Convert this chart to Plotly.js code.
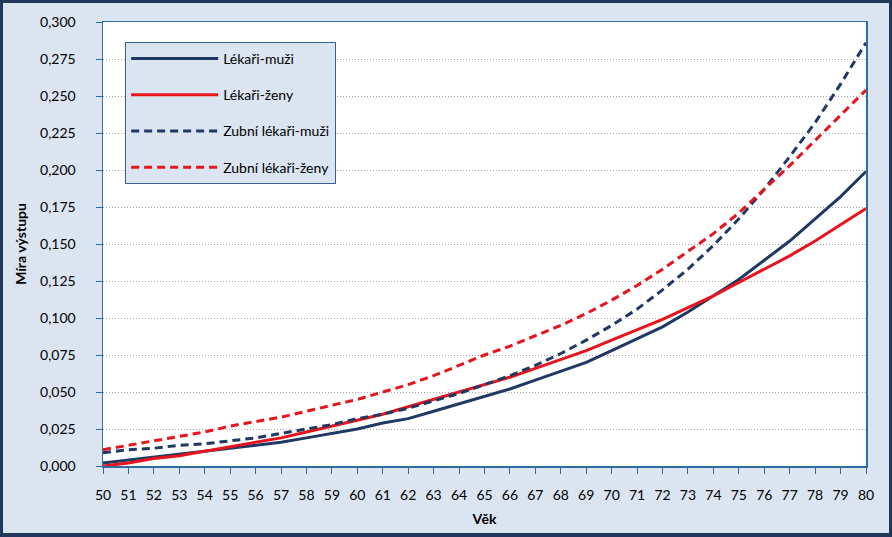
<!DOCTYPE html>
<html>
<head>
<meta charset="utf-8">
<script src="https://cdn.plot.ly/plotly-3.0.1.min.js"></script>
<style>
  html, body { margin: 0; padding: 0; background: #dbe5f1; }
  #chart {
    width: 892px; height: 537px; box-sizing: border-box;
    border: 3px solid #22385a; border-bottom-width: 4px;
  }
</style>
</head>
<body>
<div id="chart"></div>
<script>
// age axis
const ages = [50, 51, 52, 53, 54, 55, 56, 57, 58, 59, 60, 61, 62, 63, 64, 65,
              66, 67, 68, 69, 70, 71, 72, 73, 74, 75, 76, 77, 78, 79, 80];

const seriesNames = ['Lékaři-muži', 'Lékaři-ženy', 'Zubní lékaři-muži', 'Zubní lékaři-ženy'];

// values
const lekariMuzi = [0.002, 0.004, 0.006, 0.008, 0.010, 0.012, 0.014, 0.016, 0.019, 0.022,
                    0.025, 0.029, 0.032, 0.037, 0.042, 0.047, 0.052, 0.058, 0.064, 0.070,
                    0.078, 0.086, 0.094, 0.104, 0.115, 0.126, 0.139, 0.152, 0.167, 0.182, 0.199];

const lekariZeny = [0.000, 0.002, 0.005, 0.007, 0.010, 0.013, 0.016, 0.019, 0.023, 0.027,
                    0.031, 0.035, 0.040, 0.045, 0.050, 0.055, 0.060, 0.066, 0.072, 0.078,
                    0.085, 0.092, 0.099, 0.107, 0.115, 0.124, 0.133, 0.142, 0.152, 0.163, 0.174];

const zubniMuzi = [0.009, 0.011, 0.012, 0.014, 0.015, 0.017, 0.019, 0.022, 0.025, 0.028,
                   0.032, 0.035, 0.039, 0.044, 0.049, 0.055, 0.061, 0.068, 0.076, 0.085,
                   0.095, 0.106, 0.119, 0.133, 0.149, 0.167, 0.187, 0.209, 0.232, 0.258, 0.286];

const zubniZeny = [0.011, 0.014, 0.017, 0.020, 0.023, 0.027, 0.030, 0.033, 0.037, 0.041,
                   0.045, 0.050, 0.055, 0.061, 0.068, 0.075, 0.081, 0.088, 0.095, 0.103,
                   0.112, 0.122, 0.133, 0.145, 0.157, 0.171, 0.187, 0.203, 0.220, 0.237, 0.254];

const navy = '#1f3864';
const red = '#e8141c';
const font = 'Lato, "Liberation Sans", sans-serif';

function makeTrace(name, values, color, dash) {
    return {
        x: ages,
        y: values,
        name: name,
        legendgroup: name,
        mode: 'lines',
        line: { color: color, width: 3, dash: dash },
        hoverinfo: 'x+y+name'
    };
}

const traces = [
    makeTrace(seriesNames[0], lekariMuzi, navy, 'solid'),
    makeTrace(seriesNames[1], lekariZeny, red, 'solid'),
    makeTrace(seriesNames[2], zubniMuzi, navy, '8px,5px'),
    makeTrace(seriesNames[3], zubniZeny, red, '8px,5px')
];

const layout = {
    width: 886,
    height: 530,
    margin: { l: 100, r: 23, t: 19, b: 67 },
    paper_bgcolor: '#dbe5f1',
    plot_bgcolor: '#ffffff',
    separators: ', ',
    font: { family: font, size: 13, color: '#000000' },
    showlegend: true,
    legend: {
        x: 0.029, y: 0.955, xanchor: 'left', yanchor: 'top',
        bgcolor: '#dbe5f1',
        bordercolor: '#3a5f8f',
        borderwidth: 1,
        font: { family: font, size: 14, color: '#000000' },
        tracegroupgap: 15,
        itemwidth: 87
    },
    xaxis: {
        range: [50, 80],
        tickmode: 'linear',
        tick0: 50,
        dtick: 1,
        ticks: 'outside',
        ticklen: 6,
        tickcolor: '#2e6da4',
        showline: true,
        linecolor: '#2e6da4',
        linewidth: 1.5,
        mirror: true,
        showgrid: false,
        zeroline: false,
        ticklabelstandoff: 10,
        tickfont: { family: font, size: 14, color: '#000000' },
        title: { text: '<b>Věk</b>', font: { family: font, size: 14, color: '#000000' }, standoff: 12 }
    },
    yaxis: {
        range: [0, 0.3],
        tickmode: 'linear',
        tick0: 0,
        dtick: 0.025,
        tickformat: '.3f',
        ticks: 'outside',
        ticklen: 6,
        tickcolor: '#2e6da4',
        showline: true,
        linecolor: '#2e6da4',
        linewidth: 1.5,
        mirror: true,
        showgrid: true,
        gridcolor: '#a6a6a6',
        griddash: '1px,2px',
        gridwidth: 1,
        zeroline: false,
        ticklabelstandoff: 17,
        tickfont: { family: font, size: 14, color: '#000000' },
        title: { text: '<b>Míra výstupu</b>', font: { family: font, size: 14, color: '#000000' }, standoff: 10 }
    }
};

Plotly.newPlot('chart', traces, layout, { displayModeBar: false, staticPlot: true });
</script>
</body>
</html>
